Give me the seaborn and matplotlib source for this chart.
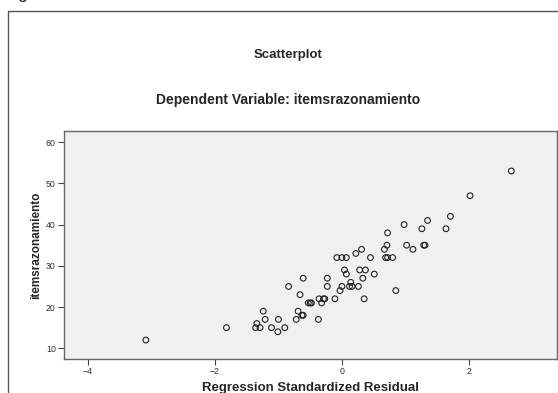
import numpy as np
import pandas as pd
import seaborn as sns
import matplotlib.pyplot as plt
from matplotlib.lines import Line2D

# regression standardized residual vs dependent variable
resid = [-3.09, -1.82, -1.36, -1.29, -1.34, -1.24, -1.21, -1.11, -1.01, -1.00,
         -0.90, -0.84, -0.72, -0.69, -0.66, -0.63, -0.61, -0.61, -0.53, -0.50,
         -0.48, -0.37, -0.36, -0.29, -0.27, -0.32, -0.23, -0.23, -0.11, -0.08,
         0.00, 0.07, -0.03, 0.00, 0.04, 0.07, 0.12, 0.16, 0.26, 0.14,
         0.22, 0.28, 0.37, 0.31, 0.33, 0.35, 0.45, 0.51, 0.67, 0.71,
         0.69, 0.72, 0.80, 0.72, 0.85, 0.98, 1.02, 1.12, 1.26, 1.29,
         1.31, 1.35, 1.64, 1.71, 2.02, 2.67]
items = [12, 15, 15, 15, 16, 19, 17, 15, 14, 17,
         15, 25, 17, 19, 23, 18, 18, 27, 21, 21,
         21, 17, 22, 22, 22, 21, 27, 25, 22, 32,
         32, 32, 24, 25, 29, 28, 25, 25, 25, 26,
         33, 29, 29, 34, 27, 22, 32, 28, 34, 35,
         32, 32, 32, 38, 24, 40, 35, 34, 39, 35,
         35, 41, 39, 42, 47, 53]

x_ticks = [-4, -2, 0, 2]
y_ticks = [10, 20, 30, 40, 50, 60]

df = pd.DataFrame({"Regression Standardized Residual": resid,
                   "itemsrazonamiento": items})

sns.set_style("white")
plt.rcParams['font.family'] = ['Liberation Sans', 'DejaVu Sans']

W, H = 558, 393
fig = plt.figure(figsize=(W / 100, H / 100), dpi=100)
ax = fig.add_axes([64 / W, (H - 359) / H, (557 - 64) / W, (359 - 131) / H])
ax.set_facecolor('#f0f0f0')

sns.scatterplot(data=df, x="Regression Standardized Residual", y="itemsrazonamiento",
                ax=ax, marker='o', s=17, facecolors='none', edgecolor='#222222',
                linewidth=0.8)

ax.set_xlim(-4.38, 3.39)
ax.set_ylim(7.4, 62.7)
ax.set_xticks(x_ticks)
ax.set_yticks(y_ticks)
ax.tick_params(axis='both', direction='out', length=4, width=0.8, color='#444444',
               labelsize=6.3, labelcolor='#333333', pad=2,
               bottom=True, left=True)
for sp in ax.spines.values():
    sp.set_color('#666666')
    sp.set_linewidth(1.0)

ax.set_xlabel("Regression Standardized Residual", fontsize=9.5, fontweight='bold')
ax.xaxis.set_label_coords(0.5, -(382 - 359) / 228)
ax.set_ylabel("itemsrazonamiento", fontsize=8.5, fontweight='bold')
ax.yaxis.set_label_coords(-(64 - 42) / 493, 0.5)

fig.text(288 / W, 1 - 55 / H, "Scatterplot", ha='center', va='center',
         fontsize=9.5, fontweight='bold')
fig.text(288 / W, 1 - 100 / H, "Dependent Variable: itemsrazonamiento", ha='center',
         va='center', fontsize=10, fontweight='bold')

# outer frame of the output viewer
fig.add_artist(Line2D([7.5 / W, 7.5 / W], [0, 1 - 11 / H], color='#555555', lw=1.0))
fig.add_artist(Line2D([7.5 / W, 1], [1 - 11 / H, 1 - 11 / H], color='#555555', lw=1.0))
fig.text(17 / W, 1 + 6 / H, "g", ha='left', va='center', fontsize=13, color='#222222')

fig.savefig("out.png", dpi=100)
